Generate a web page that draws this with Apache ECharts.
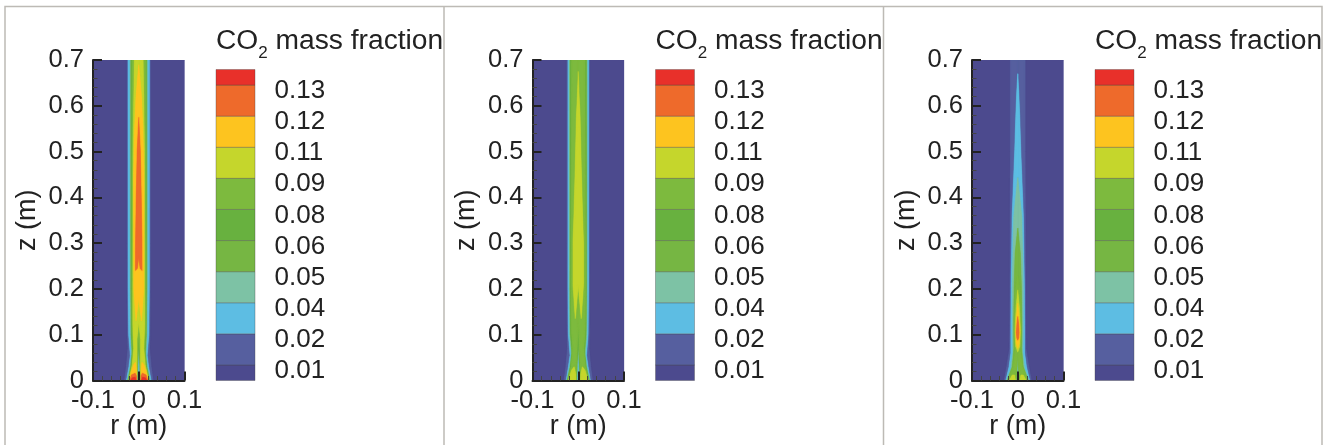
<!DOCTYPE html>
<html>
<head>
<meta charset="utf-8">
<style>html,body{margin:0;padding:0;background:#fff}#c{width:1330px;height:445px}</style>
<script src="https://cdn.jsdelivr.net/npm/echarts@6/dist/echarts.min.js"></script>
</head>
<body>
<div id="c"></div>
<script>
// Contour level colours, lowest level first
const levelColors = ['#4c4a8e','#565f9f','#5dbde3','#7dc2a5','#76b643','#68b13f','#7dba3e','#c5d62c','#fdc41f','#ee6a2b','#e8302a'];
const legendLabels = ['0.01','0.02','0.04','0.05','0.06','0.08','0.09','0.11','0.12','0.13'];
const legendEdges = [0,0.5,1.5,2.5,3.5,4.5,5.5,6.5,7.5,8.5,9.5,10];

// Each contour: [level, [[r, z], ...]] right half, mirrored about r = 0
const flame1 = [
  [0, [[0.1,0],[0.1,0.7],[0,0.7],[0,0]]],
  [1, [[0.025,0.7],[0.025,0.3],[0.0245,0.12],[0.0235,0.07],[0.027,0.03],[0.031,0],[0,0],[0,0.7]]],
  [2, [[0.0232,0.7],[0.023,0.2],[0.022,0.1],[0.0185,0.055],[0.0215,0.03],[0.027,0],[0,0],[0,0.7]]],
  [3, [[0.0185,0.7],[0.0185,0.2],[0.0175,0.1],[0.0155,0.055],[0.0185,0.03],[0.0245,0],[0.003,0],[0.002,0.03],[0,0.07],[0,0.7]]],
  [4, [[0.0172,0.7],[0.0172,0.2],[0.0165,0.1],[0.0145,0.06],[0.0175,0.03],[0.0235,0],[0.004,0],[0.003,0.03],[0,0.08],[0,0.7]]],
  [5, [[0.016,0.7],[0.016,0.2],[0.0155,0.1],[0.0135,0.065],[0.0165,0.03],[0.0228,0],[0.0045,0],[0.0035,0.03],[0,0.09],[0,0.7]]],
  [6, [[0.0145,0.7],[0.015,0.2],[0.0145,0.11],[0.0125,0.07],[0.0155,0.03],[0.022,0],[0.005,0],[0.0035,0.04],[0.003,0.06],[0,0.1],[0,0.7]]],
  [7, [[0.0095,0.7],[0.0125,0.5],[0.0128,0.2],[0.0128,0.12],[0.011,0.07],[0.014,0.035],[0.0215,0],[0.005,0],[0.004,0.03],[0.004,0.06],[0.004,0.09],[0,0.128],[0,0.7]]],
  [8, [[0,0.69],[0.006,0.62],[0.009,0.55],[0.011,0.45],[0.0108,0.2],[0.006,0.13],[0,0.18]]],
  [8, [[0.0208,0],[0.016,0.02],[0.011,0.035],[0.007,0.04],[0.005,0.02],[0.005,0]]],
  [9, [[0,0.575],[0.0035,0.5],[0.0055,0.4],[0.007,0.3],[0.0072,0.24],[0.003,0.245],[0,0.27]]],
  [9, [[0.0195,0],[0.016,0.012],[0.008,0.016],[0.005,0.01],[0.005,0]]],
  [10, [[0.0178,0],[0.014,0.006],[0.008,0.007],[0.006,0]]]
];
const flame2 = [
  [0, [[0.1,0],[0.1,0.7],[0,0.7],[0,0]]],
  [1, [[0.0245,0.7],[0.0245,0.3],[0.024,0.12],[0.0235,0.07],[0.027,0.03],[0.031,0],[0,0],[0,0.7]]],
  [2, [[0.0225,0.7],[0.0225,0.2],[0.0215,0.1],[0.018,0.055],[0.0215,0.03],[0.0265,0],[0,0],[0,0.7]]],
  [3, [[0.0195,0.7],[0.0192,0.2],[0.0185,0.1],[0.015,0.055],[0.0185,0.03],[0.025,0],[0.003,0],[0.002,0.03],[0,0.075],[0,0.7]]],
  [4, [[0.018,0.7],[0.018,0.2],[0.017,0.1],[0.014,0.06],[0.0175,0.03],[0.024,0],[0.004,0],[0.003,0.03],[0,0.085],[0,0.7]]],
  [5, [[0.0165,0.7],[0.017,0.2],[0.016,0.1],[0.013,0.065],[0.0165,0.03],[0.023,0],[0.0045,0],[0.0035,0.03],[0,0.09],[0,0.7]]],
  [6, [[0.0145,0.7],[0.0158,0.2],[0.015,0.11],[0.012,0.07],[0.0155,0.03],[0.0222,0],[0.005,0],[0.004,0.04],[0.003,0.06],[0,0.125],[0,0.7]]],
  [7, [[0,0.675],[0.002,0.62],[0.004,0.577],[0.0065,0.468],[0.0095,0.358],[0.0115,0.3],[0.0115,0.21],[0.0065,0.135],[0,0.208]]],
  [7, [[0.0212,0],[0.015,0.022],[0.009,0.03],[0.0055,0.015],[0.005,0]]]
];
const flame3 = [
  [0, [[0.1,0],[0.1,0.7],[0,0.7],[0,0]]],
  [1, [[0.016,0.7],[0.016,0.5],[0.0165,0.3],[0.017,0.12],[0.0175,0.07],[0.024,0.03],[0.0295,0],[0,0],[0,0.7]]],
  [2, [[0,0.67],[0.0022,0.63],[0.0043,0.577],[0.0065,0.505],[0.0123,0.358],[0.0145,0.204],[0.015,0.12],[0.015,0.06],[0.019,0.03],[0.0262,0],[0,0],[0,0.67]]],
  [3, [[0,0.443],[0.0087,0.358],[0.0095,0.32],[0.011,0.25],[0.0118,0.2],[0.0115,0.1],[0.0105,0.06],[0.015,0.025],[0.0242,0],[0.002,0],[0.0015,0.02],[0,0.05],[0,0.443]]],
  [4, [[0,0.333],[0.0058,0.278],[0.008,0.204],[0.0088,0.13],[0.0085,0.07],[0.012,0.03],[0.023,0],[0.0035,0],[0.002,0.02],[0,0.06],[0,0.333]]],
  [6, [[0,0.228],[0.0048,0.19],[0.0072,0.14],[0.0072,0.09],[0.005,0.065],[0.01,0.03],[0.0215,0],[0.005,0],[0.003,0.02],[0,0.066],[0,0.228]]],
  [7, [[0,0.198],[0.0035,0.16],[0.0058,0.11],[0.0045,0.075],[0,0.062]]],
  [7, [[0.0185,0],[0.012,0.012],[0.007,0.012],[0.005,0]]],
  [8, [[0,0.169],[0.0025,0.14],[0.0043,0.105],[0.0032,0.08],[0,0.07]]],
  [9, [[0,0.14],[0.0017,0.125],[0.003,0.105],[0.002,0.093],[0,0.088]]]
];
const yTicks = 0.1;
const panelLeft = [93, 532.5, 972];
const flames = [flame1, flame2, flame3];

const grids = [], xAxes = [], yAxes = [], series = [], titles = [];
const axisColor = '#222';
const font = '"Liberation Sans", Arial, sans-serif';

flames.forEach((flame, p) => {
  const L = panelLeft[p], g = grids.length;
  // plot grid
  grids.push({left: L, top: 60, width: 91.5, height: 320.5, outerBoundsMode: 'none'});
  xAxes.push({gridIndex: g, type: 'value', min: -0.1, max: 0.1, interval: 0.1, z: 5,
    name: 'r (m)', nameLocation: 'middle', nameGap: 33, nameMoveOverlap: false,
    nameTextStyle: {fontFamily: font, fontSize: 27, color: '#222'},
    axisLine: {onZero: false, lineStyle: {color: axisColor, width: 2}},
    axisTick: {inside: true, length: 9, lineStyle: {color: axisColor, width: 2}},
    minorTick: {show: true, splitNumber: 5, length: 4.5, lineStyle: {color: '#444', width: 1}},
    splitLine: {show: false},
    axisLabel: {fontFamily: font, fontSize: 25.5, color: '#222', margin: 7, showMinLabel: true, showMaxLabel: true,
      hideOverlap: false, formatter: v => String(Math.round(v * 10) / 10)}});
  yAxes.push({gridIndex: g, type: 'value', min: 0, max: 0.7, interval: yTicks, z: 5,
    name: 'z (m)', nameLocation: 'middle', nameGap: 52, nameRotate: 90, nameMoveOverlap: false,
    nameTextStyle: {fontFamily: font, fontSize: 27, color: '#222'},
    axisLine: {onZero: false, lineStyle: {color: axisColor, width: 2}},
    axisTick: {inside: true, length: 9, lineStyle: {color: axisColor, width: 2}},
    minorTick: {show: true, splitNumber: 5, length: 4.5, lineStyle: {color: '#444', width: 1}},
    splitLine: {show: false},
    axisLabel: {fontFamily: font, fontSize: 25.5, color: '#222', margin: 9, hideOverlap: false,
      formatter: v => String(Math.round(v * 10) / 10)}});
  series.push({type: 'custom', xAxisIndex: g, yAxisIndex: g, clip: true, z: 1,
    encode: {x: 0, y: 1}, silent: true,
    data: flame.map((c, i) => [0, 0, i]),
    renderItem(params, api) {
      const c = flame[api.value(2)];
      const right = c[1].map(q => api.coord(q));
      const left = c[1].map(q => api.coord([-q[0], q[1]])).reverse();
      const col = levelColors[c[0]];
      return {type: 'polygon', shape: {points: right.concat(left)},
        style: {fill: col, stroke: col, lineWidth: 0.3, shadowBlur: c[0] > 0 ? 0.8 : 0, shadowColor: col}};
    }});

  // colour key, its own grid in row units
  const k = grids.length;
  grids.push({left: L + 123, top: 69.5, width: 39, height: 311, outerBoundsMode: 'none'});
  xAxes.push({gridIndex: k, type: 'value', min: 0, max: 1, show: false});
  yAxes.push({gridIndex: k, type: 'value', min: 0, max: 10, show: false});
  series.push({type: 'custom', xAxisIndex: k, yAxisIndex: k, clip: false, z: 2, silent: true,
    encode: {x: 0, y: 1},
    data: levelColors.map((c, i) => [0, legendEdges[i], legendEdges[i + 1], i]),
    renderItem(params, api) {
      const a = api.coord([0, api.value(1)]), b = api.coord([1, api.value(2)]);
      return {type: 'rect', shape: {x: a[0], y: b[1], width: b[0] - a[0], height: a[1] - b[1]},
        style: {fill: levelColors[api.value(3)], stroke: 'rgba(70,70,70,0.45)', lineWidth: 0.8}};
    }});
  series.push({type: 'custom', xAxisIndex: k, yAxisIndex: k, clip: false, z: 3, silent: true,
    encode: {x: 0, y: 1},
    data: legendLabels.map((t, i) => [1.5, i + 0.31, i]),
    renderItem(params, api) {
      const a = api.coord([api.value(0), api.value(1)]);
      return {type: 'text', x: a[0], y: a[1],
        style: {text: legendLabels[api.value(2)], fontFamily: font, fontSize: 26, fill: '#222',
          textAlign: 'left', textVerticalAlign: 'middle'}};
    }});

  titles.push({text: '{m|CO}{s|2}{m| mass fraction}', left: L + 123, top: 27, padding: 0,
    textStyle: {rich: {
      m: {fontFamily: font, fontSize: 28.2, fontWeight: 'normal', color: '#222', verticalAlign: 'top', lineHeight: 28},
      s: {fontFamily: font, fontSize: 17, fontWeight: 'normal', color: '#222', verticalAlign: 'bottom', lineHeight: 35}
    }}});
});

const frameColor = '#bdbab5';
const frame = [
  [[5, 445], [5, 6.5], [1322, 6.5], [1322, 445]],
  [[444, 6.5], [444, 445]],
  [[883.5, 6.5], [883.5, 445]]
];

const chart = echarts.init(document.getElementById('c'), null, {renderer: 'canvas', width: 1330, height: 445});
chart.setOption({
  animation: false, backgroundColor: '#fff',
  title: titles, grid: grids, xAxis: xAxes, yAxis: yAxes, series,
  graphic: frame.map(pts => ({type: 'polyline', silent: true, shape: {points: pts},
    style: {fill: 'none', stroke: frameColor, lineWidth: 1.5}}))
});
</script>
</body>
</html>
